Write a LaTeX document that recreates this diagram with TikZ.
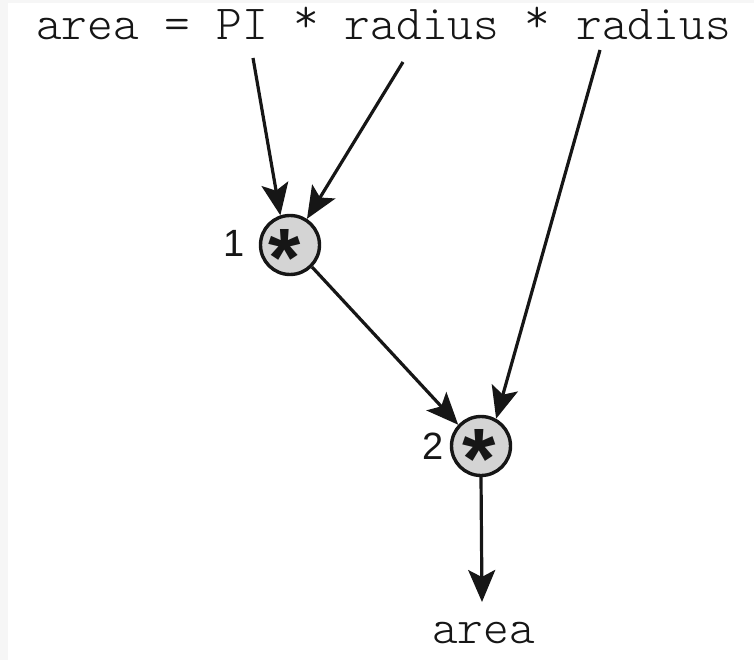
\documentclass[tikz,border=0pt]{standalone}
\usepackage{fontspec}
\setmainfont{Liberation Sans}
\newfontfamily\codefont{Latin Modern Mono Light}
\usetikzlibrary{arrows.meta}
\definecolor{opfill}{RGB}{212,212,212}
\definecolor{edgegray}{RGB}{246,246,246}
\definecolor{inkc}{RGB}{22,22,22}
\newcommand{\hiast}{\raisebox{0.16em}{*}}
\tikzset{
  opnode/.style={circle, draw=inkc, line width=3.4pt, fill=opfill, minimum size=59pt, inner sep=0pt},
  astk/.style={inner sep=0pt, text=inkc},
  numlabel/.style={inner sep=0pt, text=inkc, font=\fontsize{38}{38}\selectfont},
  codetext/.style={inner sep=0pt, text=inkc, font=\codefont\fontsize{49}{49}\selectfont},
  flow/.style={draw=inkc, line width=3.2pt, -{Stealth[length=32pt, width=27pt, inset=7pt]}}
}
\begin{document}
\begin{tikzpicture}[x=1pt, y=-1pt]
\useasboundingbox (0,0) rectangle (754,660);
\fill[edgegray] (0,0) rectangle (8,660);
\fill[edgegray] (0,0) rectangle (754,3);

\node[codetext, anchor=base] (expr) at (383.5,40) {area = PI \hiast{} radius \hiast{} radius};
\coordinate (sPI) at (253,58);
\coordinate (sR1) at (403,62);
\coordinate (sR2) at (600,50);

\node[opnode] (m1) at (290,245) {};
\node[astk] (a1) at (285,258) {\resizebox{!}{57pt}{\bfseries *}};
\node[numlabel] (l1) at (234,243) {1};

\node[opnode] (m2) at (481,446) {};
\node[astk] (a2) at (479,459) {\resizebox{!}{59pt}{\bfseries *}};
\node[numlabel] (l2) at (433,446) {2};

\coordinate (out) at (482,602);
\node[codetext, anchor=base] (res) at (483.5,643) {area};

\draw[flow] (sPI) -- (m1.108);
\draw[flow] (sR1) -- (m1.57);
\draw[flow] (sR2) -- (m2.61);
\draw[flow] (m1.-45) -- (m2.137);
\draw[flow] (m2.south) -- (out);
\end{tikzpicture}
\end{document}
